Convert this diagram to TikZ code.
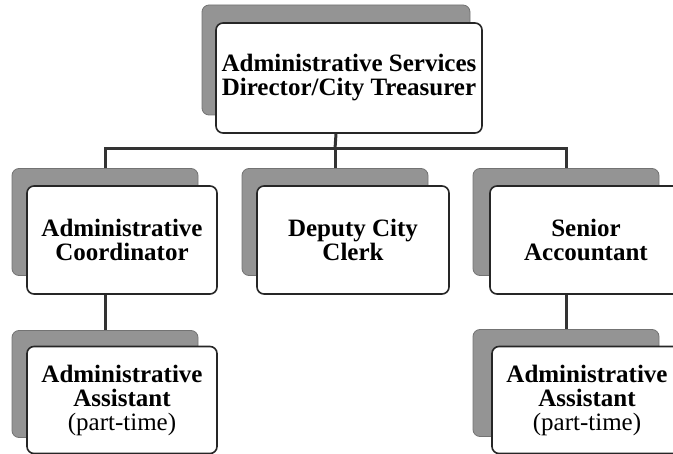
\documentclass[tikz,border=0pt]{standalone}
\usepackage{fontspec}
\setmainfont{Liberation Serif}
\usepackage{tikz}

\begin{document}
\begin{tikzpicture}[x=1pt, y=-1pt,
    back/.style={rectangle, rounded corners=7pt, fill=black!42, draw=black!55, line width=0.8pt},
    front/.style={rectangle, rounded corners=7pt, fill=white, draw=black!85, line width=1.6pt,
        align=center, font=\fontsize{25}{24}\selectfont\bfseries},
    link/.style={draw=black!80, line width=3pt}]
    \useasboundingbox (0,0) rectangle (673,454);
    % grey backing cards
    \node[back, minimum width=268pt, minimum height=110pt] (dirS) at (336,60) {};
    \node[back, minimum width=186pt, minimum height=107pt] (coordS) at (105,222) {};
    \node[back, minimum width=186pt, minimum height=107pt] (clerkS) at (335,222) {};
    \node[back, minimum width=186pt, minimum height=107pt] (acctS) at (566,222) {};
    \node[back, minimum width=186pt, minimum height=107pt] (asstAS) at (105,384) {};
    \node[back, minimum width=186pt, minimum height=107pt] (asstBS) at (566,383) {};
    % white cards
    \node[front, minimum width=266pt, minimum height=110pt] (dir) at (349,78) {Administrative Services\\Director/City Treasurer};
    \node[front, minimum width=190pt, minimum height=108pt] (coord) at (122,240) {Administrative\\Coordinator};
    \node[front, minimum width=192pt, minimum height=108pt] (clerk) at (353,240) {Deputy City\\Clerk};
    \node[front, minimum width=192pt, minimum height=108pt] (acct) at (586,240) {Senior\\Accountant};
    \node[front, minimum width=190pt, minimum height=107pt] (asstA) at (122,400) {Administrative\\Assistant\\\mdseries(part-time)};
    \node[front, minimum width=190pt, minimum height=107pt] (asstB) at (587,400) {Administrative\\Assistant\\\mdseries(part-time)};
    % lines
    \coordinate (hub) at (335,149);
    \draw[link] (dirS |- dir.south) -- (hub);
    \draw[link] (coordS.north) -- (coordS.north |- hub) -- (acctS.north |- hub) -- (acctS.north);
    \draw[link] (hub) -- (clerkS.north);
    \draw[link] (coordS |- coord.south) -- (asstAS.north);
    \draw[link] (acctS |- acct.south) -- (asstBS.north);
\end{tikzpicture}
\end{document}
